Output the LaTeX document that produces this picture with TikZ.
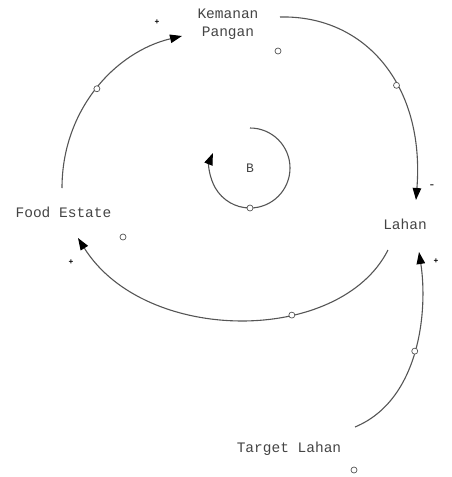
\documentclass[tikz,border=0pt]{standalone}
\usepackage{fontspec}
\newfontfamily\monofam{Liberation Mono}
\usetikzlibrary{arrows.meta,calc}
\definecolor{linegray}{HTML}{555555}
\definecolor{textgray}{HTML}{444444}
\tikzset{
  var/.style={inner sep=0pt, text=textgray, font=\monofam\fontsize{14.5}{18}\selectfont, align=center},
  sign/.style={inner sep=0pt, text=black, font=\monofam\bfseries\fontsize{8}{8}\selectfont},
  link/.style={draw=linegray, line width=1.1pt, -{Triangle[length=12pt,width=8.5pt,color=black]}},
  dot/.style={circle, draw=linegray, fill=white, line width=0.7pt, inner sep=0pt, minimum size=6pt},
}
\begin{document}
\begin{tikzpicture}[x=1pt,y=-1pt]
\useasboundingbox (0,0) rectangle (451,477);
% variables
\node[var] (KP) at (228,24) {Kemanan\\Pangan};
\node[var] (FE) at (63.5,212) {Food Estate};
\node[var] (L) at (405,224) {Lahan};
\node[var] (TL) at (289,449) {Target Lahan};
\node[var, font=\monofam\fontsize{13}{13}\selectfont] (B) at (250,168) {B};
% free-standing small circles
\node[dot] (c1) at (278,51) {};
\node[dot] (c2) at (123,237) {};
\node[dot] (c3) at (354,470) {};
% links
\draw[link] ($(FE)+(-1.5,-24)$) .. controls (62,110) and (115,52) .. node[dot,pos=0.5]{} ($(KP)+(-46,12)$);
\draw[link] ($(KP)+(52,-7)$) .. controls (365,15) and (425,85) .. node[dot,pos=0.6]{} ($(L)+(11,-24)$);
\draw[link] ($(L)+(-17,26)$) .. controls (340,345) and (145,345) .. node[dot,pos=0.36]{} ($(FE)+(14.5,26)$);
\draw[link] ($(TL)+(66,-22)$) .. controls (420,400) and (428,310) .. node[dot,pos=0.5]{} ($(L)+(14,28)$);
% loop symbol
\draw[link] ($(B)+(0,-40)$) arc[start angle=90, end angle=-202, radius=40pt];
\node[dot] (c4) at ($(B)+(0,40)$) {};
% polarity signs
\node[sign] (s1) at (157,22) {+};
\node[sign, font=\monofam\fontsize{12}{12}\selectfont] (s2) at (432,187) {-};
\node[sign] (s3) at (71,262) {+};
\node[sign] (s4) at (436,261) {+};
\end{tikzpicture}
\end{document}
